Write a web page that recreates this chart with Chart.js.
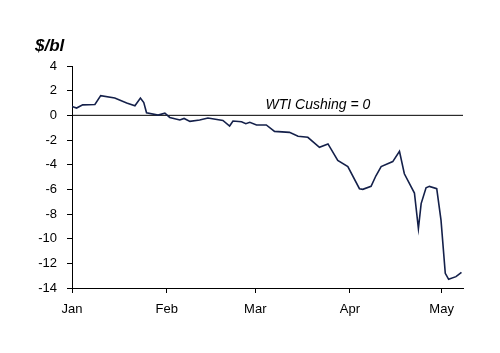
<!DOCTYPE html>
<html>
<head>
<meta charset="utf-8">
<script src="https://cdn.jsdelivr.net/npm/chart.js@4.4.1/dist/chart.umd.min.js"></script>
<style>
  body { margin: 0; background: #fff; }
  canvas { display: block; }
</style>
</head>
<body>
<canvas id="chart" width="500" height="353"></canvas>
<script>
// day of year (0 = 1 Jan 2020) and spread vs WTI Cushing, $/bl
const days = [0, 1.5, 3.5, 7.5, 9.4, 14, 17.9, 20.6, 22.4, 23.5, 24.4, 28.2, 30.4, 32, 35.3, 36.7, 38.6,
  41.8, 44.5, 49.4, 51.6, 52.7, 55.5, 56.9, 58.2, 60.4, 63.6, 66.3, 71.2, 74, 77.2, 81, 83.8, 87, 90.3,
  94.1, 95.2, 97.9, 99.5, 101.2, 105, 107.2, 108.8, 112.1, 113.4, 114.3, 115.9, 117, 119.4, 120.8,
  122.2, 123.3, 125.7, 127.5];
const spread = [0.72, 0.59, 0.85, 0.88, 1.6, 1.4, 1.0, 0.77, 1.4, 1.04, 0.21, 0.02, 0.18, -0.17, -0.38, -0.25, -0.49,
  -0.38, -0.22, -0.41, -0.87, -0.46, -0.52, -0.68, -0.57, -0.78, -0.78, -1.3, -1.38, -1.7, -1.78, -2.59, -2.32, -3.66, -4.15,
  -5.95, -6.0, -5.75, -4.9, -4.15, -3.75, -2.91, -4.74, -6.3, -9.18, -7.16, -5.87, -5.76, -5.95, -8.5,
  -12.81, -13.3, -13.08, -12.73];

const monthStarts = [0, 31, 60, 91, 121];
const monthLabels = ['Jan', 'Feb', 'Mar', 'Apr', 'May'];
const lastDay = 128;

const FONT = '"Liberation Sans", Arial, sans-serif';

const labelsPlugin = {
  id: 'labels',
  afterDraw(chart) {
    const c = chart.ctx;
    const xs = chart.scales.x, ys = chart.scales.y;
    c.save();
    c.fillStyle = '#000';
    c.font = 'italic bold 17px ' + FONT;
    c.textAlign = 'left';
    c.textBaseline = 'alphabetic';
    c.fillText('$/bl', 35, 51);
    c.font = 'italic 14px ' + FONT;
    c.textAlign = 'center';
    c.fillText('WTI Cushing = 0', xs.getPixelForValue(80.5), ys.getPixelForValue(0) - 6);
    c.restore();
  }
};

new Chart(document.getElementById('chart'), {
  type: 'line',
  data: {
    datasets: [
      {
        data: days.map((d, i) => ({ x: d, y: spread[i] })),
        borderColor: '#14204a',
        borderWidth: 1.6,
        pointRadius: 0,
        tension: 0
      },
      {
        data: [{ x: 0, y: 0 }, { x: lastDay, y: 0 }],
        borderColor: '#000',
        borderWidth: 1,
        pointRadius: 0
      }
    ]
  },
  options: {
    responsive: false,
    animation: false,
    layout: { padding: { top: 66, right: 37, left: 0, bottom: 0 } },
    plugins: { legend: { display: false }, tooltip: { enabled: false } },
    scales: {
      x: {
        type: 'linear',
        min: 0,
        max: lastDay,
        afterBuildTicks(scale) { scale.ticks = monthStarts.map(v => ({ value: v })); },
        afterFit(scale) { scale.height = 65; },
        ticks: {
          color: '#000',
          font: { family: FONT, size: 13 },
          padding: 9,
          maxRotation: 0,
          autoSkip: false,
          callback: (v) => monthLabels[monthStarts.indexOf(v)]
        },
        grid: { drawOnChartArea: false, drawTicks: true, tickLength: 5, color: '#000' },
        border: { color: '#000', width: 1 }
      },
      y: {
        min: -14,
        max: 4,
        afterFit(scale) { scale.width = 72; },
        ticks: {
          stepSize: 2,
          color: '#000',
          font: { family: FONT, size: 13 },
          padding: 10
        },
        grid: { drawOnChartArea: false, drawTicks: true, tickLength: 5, color: '#000' },
        border: { color: '#000', width: 1 }
      }
    }
  },
  plugins: [labelsPlugin]
});
</script>
</body>
</html>
